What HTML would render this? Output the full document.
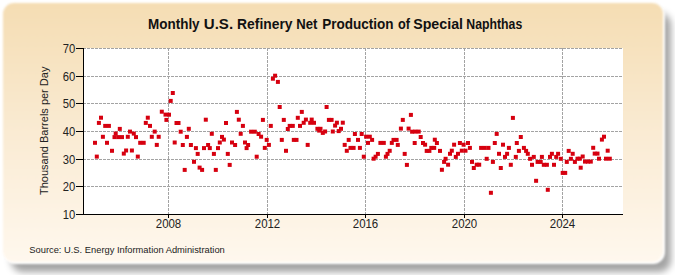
<!DOCTYPE html>
<html><head><meta charset="utf-8"><style>
html,body{margin:0;padding:0;background:#fff;width:675px;height:275px;overflow:hidden}
#sh{position:absolute;left:11px;top:13px;width:660px;height:259px;border-radius:12px;background:rgba(0,0,0,0.36);filter:blur(3.8px)}
#box{position:absolute;left:3px;top:3px;width:660px;height:259px;border-radius:11px;
background:linear-gradient(to bottom,#F5DDB3 0%,#FAEBD3 50%,#FFF8EE 100%);filter:blur(0.9px)}
#wb{position:absolute;left:3px;top:3px;width:662px;height:261px;border-radius:12px;background:#fff;filter:blur(0.9px)}
svg{position:absolute;left:0;top:0}
text{font-family:"Liberation Sans",sans-serif;fill:#222}
.title{font-size:14px;font-weight:bold;fill:#111}
.yl text{font-size:12.7px;text-anchor:end}
.xl text{font-size:12.2px;text-anchor:middle}
.gh line{stroke:#a3a3a3;stroke-width:1;stroke-dasharray:3 1;stroke-dashoffset:1}
.gv line{stroke:#a3a3a3;stroke-width:1;stroke-dasharray:3 1}
.tk line{stroke:#000;stroke-width:1}
.pts rect{fill:#D6000F}
</style></head><body>
<div id="sh"></div><div id="wb"></div><div id="box"></div>
<svg width="675" height="275" viewBox="0 0 675 275">
<rect x="84" y="48" width="539" height="166" fill="#fff"/>
<g class="gh"><line x1="84" y1="48.5" x2="623" y2="48.5"/><line x1="84" y1="76.5" x2="623" y2="76.5"/><line x1="84" y1="103.5" x2="623" y2="103.5"/><line x1="84" y1="131.5" x2="623" y2="131.5"/><line x1="84" y1="159.5" x2="623" y2="159.5"/><line x1="84" y1="186.5" x2="623" y2="186.5"/></g>
<g class="gv"><line x1="168.5" y1="48" x2="168.5" y2="214"/><line x1="267.5" y1="48" x2="267.5" y2="214"/><line x1="365.5" y1="48" x2="365.5" y2="214"/><line x1="464.5" y1="48" x2="464.5" y2="214"/><line x1="562.5" y1="48" x2="562.5" y2="214"/></g>
<g class="tk"><line x1="76" y1="48.5" x2="84" y2="48.5"/><line x1="76" y1="76.5" x2="84" y2="76.5"/><line x1="76" y1="103.5" x2="84" y2="103.5"/><line x1="76" y1="131.5" x2="84" y2="131.5"/><line x1="76" y1="159.5" x2="84" y2="159.5"/><line x1="76" y1="186.5" x2="84" y2="186.5"/><line x1="76" y1="214.5" x2="84" y2="214.5"/><line x1="168.5" y1="214" x2="168.5" y2="218"/><line x1="267.5" y1="214" x2="267.5" y2="218"/><line x1="365.5" y1="214" x2="365.5" y2="218"/><line x1="464.5" y1="214" x2="464.5" y2="218"/><line x1="562.5" y1="214" x2="562.5" y2="218"/></g>
<line x1="83.5" y1="48" x2="83.5" y2="214" stroke="#000" stroke-width="1"/>
<line x1="83" y1="214.5" x2="623" y2="214.5" stroke="#000" stroke-width="1"/>
<g class="yl"><text transform="translate(75.3,52.90) scale(0.885,1)">70</text><text transform="translate(75.3,80.90) scale(0.885,1)">60</text><text transform="translate(75.3,107.90) scale(0.885,1)">50</text><text transform="translate(75.3,135.90) scale(0.885,1)">40</text><text transform="translate(75.3,163.90) scale(0.885,1)">30</text><text transform="translate(75.3,190.90) scale(0.885,1)">20</text><text transform="translate(75.3,218.90) scale(0.885,1)">10</text></g>
<g class="xl"><text transform="translate(168.5,227.5) scale(0.94,1)">2008</text><text transform="translate(267.5,227.5) scale(0.94,1)">2012</text><text transform="translate(365.5,227.5) scale(0.94,1)">2016</text><text transform="translate(464.5,227.5) scale(0.94,1)">2020</text><text transform="translate(562.5,227.5) scale(0.94,1)">2024</text></g>
<text class="title" transform="translate(148.04,29) scale(0.9623,1)">Monthly</text><text class="title" transform="translate(203.82,29) scale(1.0760,1)">U.S.</text><text class="title" transform="translate(237.11,29) scale(0.9891,1)">Refinery</text><text class="title" transform="translate(296.26,29) scale(0.9364,1)">Net</text><text class="title" transform="translate(322.13,29) scale(0.9667,1)">Production</text><text class="title" transform="translate(398.10,29) scale(0.9077,1)">of</text><text class="title" transform="translate(413.18,29) scale(1.0170,1)">Special</text><text class="title" transform="translate(466.32,29) scale(0.8774,1)">Naphthas</text>
<text x="48" y="195" transform="rotate(-90 48 195)" style="font-size:11px">Thousand Barrels per Day</text>
<text x="29.3" y="253" style="font-size:9.5px" textLength="195.5" lengthAdjust="spacingAndGlyphs">Source: U.S. Energy Information Administration</text>
<g class="pts"><rect x="99.0" y="115.7" width="4" height="4"/><rect x="96.9" y="120.9" width="4" height="4"/><rect x="103.2" y="123.9" width="4" height="4"/><rect x="106.9" y="123.9" width="4" height="4"/><rect x="117.8" y="126.9" width="4" height="4"/><rect x="113.7" y="131.5" width="4" height="4"/><rect x="128.0" y="129.6" width="4" height="4"/><rect x="131.8" y="131.6" width="4" height="4"/><rect x="145.8" y="115.7" width="4" height="4"/><rect x="143.8" y="120.9" width="4" height="4"/><rect x="148.0" y="123.9" width="4" height="4"/><rect x="152.7" y="129.6" width="4" height="4"/><rect x="159.8" y="109.7" width="4" height="4"/><rect x="163.5" y="112.6" width="4" height="4"/><rect x="164.4" y="117.9" width="4" height="4"/><rect x="93.0" y="140.8" width="4" height="4"/><rect x="94.8" y="154.6" width="4" height="4"/><rect x="100.9" y="134.8" width="4" height="4"/><rect x="105.0" y="140.8" width="4" height="4"/><rect x="110.0" y="148.8" width="4" height="4"/><rect x="112.5" y="135.1" width="4" height="4"/><rect x="116.2" y="135.1" width="4" height="4"/><rect x="120.0" y="135.1" width="4" height="4"/><rect x="124.1" y="148.5" width="4" height="4"/><rect x="121.8" y="151.6" width="4" height="4"/><rect x="125.8" y="134.8" width="4" height="4"/><rect x="129.9" y="148.5" width="4" height="4"/><rect x="134.0" y="135.1" width="4" height="4"/><rect x="135.8" y="154.6" width="4" height="4"/><rect x="138.2" y="140.8" width="4" height="4"/><rect x="141.7" y="140.8" width="4" height="4"/><rect x="149.8" y="134.8" width="4" height="4"/><rect x="156.7" y="134.8" width="4" height="4"/><rect x="154.8" y="142.9" width="4" height="4"/><rect x="170.8" y="91.0" width="4" height="4"/><rect x="168.7" y="98.9" width="4" height="4"/><rect x="167.0" y="112.7" width="4" height="4"/><rect x="234.9" y="109.9" width="4" height="4"/><rect x="174.5" y="121.0" width="4" height="4"/><rect x="176.5" y="121.0" width="4" height="4"/><rect x="203.8" y="117.7" width="4" height="4"/><rect x="186.8" y="126.8" width="4" height="4"/><rect x="178.7" y="129.7" width="4" height="4"/><rect x="184.9" y="134.9" width="4" height="4"/><rect x="172.7" y="140.5" width="4" height="4"/><rect x="209.8" y="131.8" width="4" height="4"/><rect x="220.0" y="134.9" width="4" height="4"/><rect x="221.9" y="137.6" width="4" height="4"/><rect x="217.8" y="140.5" width="4" height="4"/><rect x="224.0" y="121.0" width="4" height="4"/><rect x="236.8" y="117.7" width="4" height="4"/><rect x="240.9" y="123.9" width="4" height="4"/><rect x="238.7" y="131.8" width="4" height="4"/><rect x="230.0" y="140.5" width="4" height="4"/><rect x="243.0" y="140.5" width="4" height="4"/><rect x="180.8" y="143.0" width="4" height="4"/><rect x="188.9" y="143.0" width="4" height="4"/><rect x="193.9" y="146.1" width="4" height="4"/><rect x="202.0" y="146.1" width="4" height="4"/><rect x="206.1" y="143.0" width="4" height="4"/><rect x="207.8" y="146.1" width="4" height="4"/><rect x="216.0" y="146.1" width="4" height="4"/><rect x="233.1" y="143.0" width="4" height="4"/><rect x="246.1" y="143.0" width="4" height="4"/><rect x="244.6" y="146.1" width="4" height="4"/><rect x="195.7" y="151.9" width="4" height="4"/><rect x="211.9" y="151.9" width="4" height="4"/><rect x="225.8" y="151.9" width="4" height="4"/><rect x="192.0" y="159.8" width="4" height="4"/><rect x="227.7" y="162.9" width="4" height="4"/><rect x="182.7" y="167.9" width="4" height="4"/><rect x="197.6" y="165.6" width="4" height="4"/><rect x="200.1" y="167.9" width="4" height="4"/><rect x="213.8" y="167.9" width="4" height="4"/><rect x="273.1" y="73.7" width="4" height="4"/><rect x="270.9" y="76.7" width="4" height="4"/><rect x="275.9" y="79.9" width="4" height="4"/><rect x="277.7" y="105.0" width="4" height="4"/><rect x="324.6" y="105.0" width="4" height="4"/><rect x="299.8" y="109.9" width="4" height="4"/><rect x="260.9" y="117.9" width="4" height="4"/><rect x="281.8" y="117.9" width="4" height="4"/><rect x="295.8" y="115.8" width="4" height="4"/><rect x="303.9" y="117.6" width="4" height="4"/><rect x="309.7" y="117.6" width="4" height="4"/><rect x="301.7" y="120.8" width="4" height="4"/><rect x="308.2" y="120.8" width="4" height="4"/><rect x="312.0" y="120.8" width="4" height="4"/><rect x="326.9" y="117.9" width="4" height="4"/><rect x="329.6" y="117.9" width="4" height="4"/><rect x="268.8" y="123.9" width="4" height="4"/><rect x="287.7" y="123.9" width="4" height="4"/><rect x="290.8" y="123.9" width="4" height="4"/><rect x="298.0" y="123.9" width="4" height="4"/><rect x="285.8" y="127.0" width="4" height="4"/><rect x="249.1" y="129.7" width="4" height="4"/><rect x="252.8" y="129.7" width="4" height="4"/><rect x="256.6" y="132.0" width="4" height="4"/><rect x="259.1" y="134.7" width="4" height="4"/><rect x="264.7" y="137.9" width="4" height="4"/><rect x="266.9" y="142.9" width="4" height="4"/><rect x="262.8" y="145.9" width="4" height="4"/><rect x="254.7" y="154.7" width="4" height="4"/><rect x="279.8" y="137.9" width="4" height="4"/><rect x="284.0" y="148.8" width="4" height="4"/><rect x="291.8" y="137.9" width="4" height="4"/><rect x="294.5" y="137.9" width="4" height="4"/><rect x="305.7" y="142.9" width="4" height="4"/><rect x="315.4" y="126.8" width="4" height="4"/><rect x="318.5" y="126.8" width="4" height="4"/><rect x="317.2" y="128.6" width="4" height="4"/><rect x="320.8" y="130.9" width="4" height="4"/><rect x="323.1" y="129.5" width="4" height="4"/><rect x="330.8" y="129.5" width="4" height="4"/><rect x="334.9" y="120.7" width="4" height="4"/><rect x="333.1" y="123.6" width="4" height="4"/><rect x="340.8" y="120.7" width="4" height="4"/><rect x="336.7" y="129.1" width="4" height="4"/><rect x="339.0" y="126.8" width="4" height="4"/><rect x="408.9" y="112.9" width="4" height="4"/><rect x="400.8" y="117.9" width="4" height="4"/><rect x="398.9" y="126.6" width="4" height="4"/><rect x="406.6" y="126.6" width="4" height="4"/><rect x="352.9" y="132.0" width="4" height="4"/><rect x="359.7" y="132.0" width="4" height="4"/><rect x="364.1" y="134.7" width="4" height="4"/><rect x="367.8" y="134.7" width="4" height="4"/><rect x="370.1" y="137.9" width="4" height="4"/><rect x="366.0" y="140.9" width="4" height="4"/><rect x="346.7" y="137.9" width="4" height="4"/><rect x="356.0" y="137.9" width="4" height="4"/><rect x="342.7" y="142.9" width="4" height="4"/><rect x="348.5" y="145.9" width="4" height="4"/><rect x="351.6" y="145.9" width="4" height="4"/><rect x="357.9" y="145.9" width="4" height="4"/><rect x="344.8" y="148.8" width="4" height="4"/><rect x="361.8" y="154.7" width="4" height="4"/><rect x="375.9" y="151.9" width="4" height="4"/><rect x="373.6" y="154.7" width="4" height="4"/><rect x="371.6" y="156.7" width="4" height="4"/><rect x="387.7" y="148.8" width="4" height="4"/><rect x="385.5" y="151.9" width="4" height="4"/><rect x="383.9" y="154.7" width="4" height="4"/><rect x="378.4" y="140.9" width="4" height="4"/><rect x="381.8" y="140.9" width="4" height="4"/><rect x="391.5" y="137.9" width="4" height="4"/><rect x="394.6" y="137.9" width="4" height="4"/><rect x="389.8" y="140.9" width="4" height="4"/><rect x="395.8" y="142.9" width="4" height="4"/><rect x="410.1" y="129.7" width="4" height="4"/><rect x="402.7" y="151.9" width="4" height="4"/><rect x="404.9" y="162.9" width="4" height="4"/><rect x="413.3" y="129.6" width="4" height="4"/><rect x="416.7" y="129.6" width="4" height="4"/><rect x="418.7" y="135.0" width="4" height="4"/><rect x="412.7" y="141.0" width="4" height="4"/><rect x="421.0" y="141.0" width="4" height="4"/><rect x="423.1" y="142.7" width="4" height="4"/><rect x="432.8" y="137.7" width="4" height="4"/><rect x="434.9" y="141.0" width="4" height="4"/><rect x="424.7" y="148.9" width="4" height="4"/><rect x="427.4" y="148.9" width="4" height="4"/><rect x="429.3" y="145.9" width="4" height="4"/><rect x="432.2" y="145.9" width="4" height="4"/><rect x="438.0" y="148.9" width="4" height="4"/><rect x="452.1" y="142.7" width="4" height="4"/><rect x="449.8" y="148.7" width="4" height="4"/><rect x="448.0" y="151.8" width="4" height="4"/><rect x="457.9" y="141.0" width="4" height="4"/><rect x="461.6" y="142.7" width="4" height="4"/><rect x="466.0" y="141.0" width="4" height="4"/><rect x="467.9" y="145.9" width="4" height="4"/><rect x="459.8" y="148.7" width="4" height="4"/><rect x="463.5" y="148.7" width="4" height="4"/><rect x="456.0" y="151.8" width="4" height="4"/><rect x="453.8" y="154.9" width="4" height="4"/><rect x="443.6" y="156.8" width="4" height="4"/><rect x="442.1" y="159.9" width="4" height="4"/><rect x="446.1" y="162.7" width="4" height="4"/><rect x="479.1" y="145.9" width="4" height="4"/><rect x="482.8" y="145.9" width="4" height="4"/><rect x="486.5" y="145.9" width="4" height="4"/><rect x="484.7" y="156.8" width="4" height="4"/><rect x="470.0" y="159.9" width="4" height="4"/><rect x="474.7" y="162.7" width="4" height="4"/><rect x="477.2" y="162.7" width="4" height="4"/><rect x="490.9" y="159.9" width="4" height="4"/><rect x="492.8" y="141.0" width="4" height="4"/><rect x="439.9" y="167.8" width="4" height="4"/><rect x="471.8" y="166.0" width="4" height="4"/><rect x="488.9" y="190.8" width="4" height="4"/><rect x="510.9" y="115.9" width="4" height="4"/><rect x="494.7" y="131.9" width="4" height="4"/><rect x="518.8" y="135.0" width="4" height="4"/><rect x="501.0" y="142.7" width="4" height="4"/><rect x="514.8" y="141.0" width="4" height="4"/><rect x="506.9" y="145.9" width="4" height="4"/><rect x="521.9" y="145.9" width="4" height="4"/><rect x="524.1" y="148.9" width="4" height="4"/><rect x="525.8" y="151.8" width="4" height="4"/><rect x="516.9" y="148.9" width="4" height="4"/><rect x="497.0" y="151.8" width="4" height="4"/><rect x="505.1" y="151.8" width="4" height="4"/><rect x="503.0" y="154.9" width="4" height="4"/><rect x="513.8" y="154.9" width="4" height="4"/><rect x="528.1" y="156.8" width="4" height="4"/><rect x="531.8" y="154.9" width="4" height="4"/><rect x="535.6" y="159.9" width="4" height="4"/><rect x="538.7" y="159.9" width="4" height="4"/><rect x="539.9" y="154.9" width="4" height="4"/><rect x="548.0" y="154.9" width="4" height="4"/><rect x="549.9" y="151.8" width="4" height="4"/><rect x="554.2" y="154.9" width="4" height="4"/><rect x="556.1" y="151.8" width="4" height="4"/><rect x="558.8" y="156.8" width="4" height="4"/><rect x="566.7" y="148.9" width="4" height="4"/><rect x="570.7" y="151.8" width="4" height="4"/><rect x="564.8" y="159.9" width="4" height="4"/><rect x="568.9" y="156.8" width="4" height="4"/><rect x="572.9" y="159.9" width="4" height="4"/><rect x="498.8" y="166.0" width="4" height="4"/><rect x="508.8" y="162.8" width="4" height="4"/><rect x="530.0" y="162.8" width="4" height="4"/><rect x="541.8" y="162.8" width="4" height="4"/><rect x="544.9" y="162.8" width="4" height="4"/><rect x="552.0" y="162.8" width="4" height="4"/><rect x="560.7" y="170.9" width="4" height="4"/><rect x="563.2" y="170.9" width="4" height="4"/><rect x="534.1" y="178.8" width="4" height="4"/><rect x="545.8" y="187.8" width="4" height="4"/><rect x="602.0" y="134.7" width="4" height="4"/><rect x="599.9" y="137.6" width="4" height="4"/><rect x="591.2" y="145.8" width="4" height="4"/><rect x="605.7" y="148.7" width="4" height="4"/><rect x="592.7" y="151.6" width="4" height="4"/><rect x="595.5" y="151.6" width="4" height="4"/><rect x="580.7" y="154.5" width="4" height="4"/><rect x="575.5" y="156.7" width="4" height="4"/><rect x="577.8" y="156.7" width="4" height="4"/><rect x="583.0" y="159.6" width="4" height="4"/><rect x="585.9" y="159.6" width="4" height="4"/><rect x="588.8" y="159.6" width="4" height="4"/><rect x="578.7" y="165.7" width="4" height="4"/><rect x="597.0" y="156.7" width="4" height="4"/><rect x="604.0" y="156.7" width="4" height="4"/><rect x="607.8" y="156.7" width="4" height="4"/></g>
</svg>
</body></html>
